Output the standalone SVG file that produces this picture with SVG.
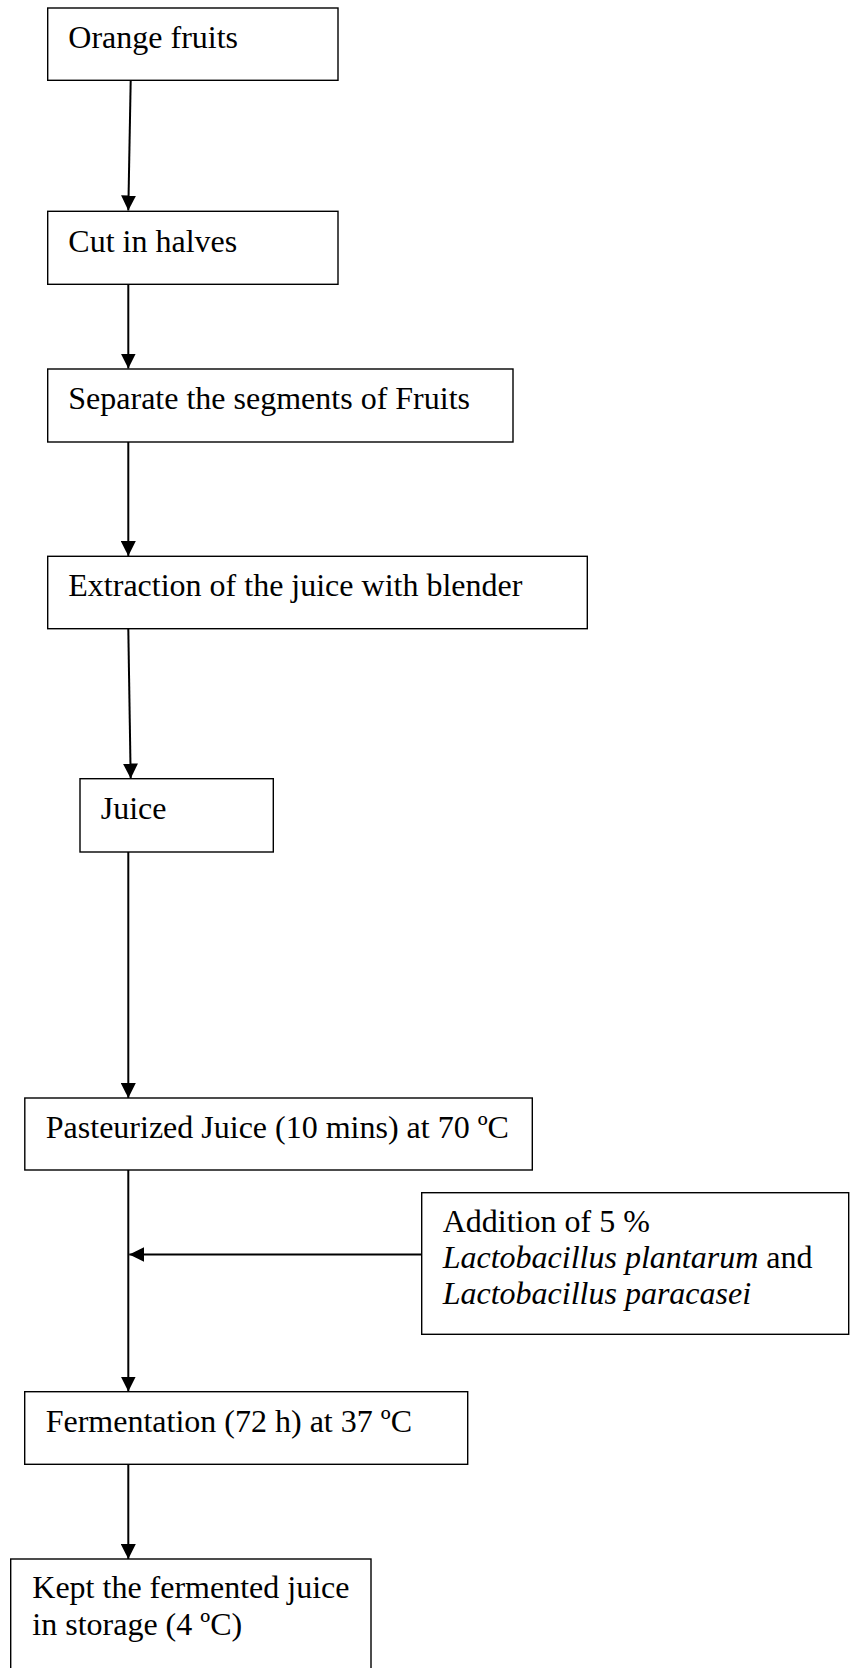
<svg xmlns="http://www.w3.org/2000/svg" width="861" height="1668" viewBox="0 0 861 1668">
<defs>
<style>
.box{fill:#fff;stroke:#000;stroke-width:1.4}
.t{font-family:"Liberation Serif","Times New Roman",serif;font-size:32px;fill:#000}
.i{font-style:italic}
.c{fill:none;stroke:#000;stroke-width:2}
</style>
<marker id="ah" viewBox="0 0 10 10" refX="10" refY="5" markerWidth="7.5" markerHeight="7.5" orient="auto" markerUnits="strokeWidth">
<path d="M0,0 L10,5 L0,10 z" fill="#000"/>
</marker>
</defs>
<rect width="861" height="1668" fill="#fff"/>
<g id="connectors">
<line class="c" x1="130.7" y1="80" x2="128.3" y2="210.5" marker-end="url(#ah)"/>
<line class="c" x1="128.3" y1="284" x2="128.3" y2="368.5" marker-end="url(#ah)"/>
<line class="c" x1="128.3" y1="442" x2="128.3" y2="556" marker-end="url(#ah)"/>
<line class="c" x1="128.3" y1="629" x2="130.7" y2="778.5" marker-end="url(#ah)"/>
<line class="c" x1="128.3" y1="852" x2="128.3" y2="1098" marker-end="url(#ah)"/>
<line class="c" x1="128.3" y1="1170" x2="128.3" y2="1391.5" marker-end="url(#ah)"/>
<line class="c" x1="421.7" y1="1254.5" x2="129.3" y2="1254.5" marker-end="url(#ah)"/>
<line class="c" x1="128.3" y1="1464.3" x2="128.3" y2="1559" marker-end="url(#ah)"/>
</g>
<g id="n1"><rect class="box" x="47.7" y="8" width="290.3" height="72.3"/><text class="t" x="68.3" y="48.3">Orange fruits</text></g>
<g id="n2"><rect class="box" x="47.7" y="211.3" width="290.3" height="73"/><text class="t" x="68.3" y="251.7">Cut in halves</text></g>
<g id="n3"><rect class="box" x="47.7" y="369" width="465.3" height="73"/><text class="t" x="68.3" y="408.7">Separate the segments of Fruits</text></g>
<g id="n4"><rect class="box" x="47.7" y="556.3" width="539.6" height="72.4"/><text class="t" x="68.3" y="595.7">Extraction of the juice with blender</text></g>
<g id="n5"><rect class="box" x="80" y="778.7" width="193.3" height="73.3"/><text class="t" x="100.7" y="818.7">Juice</text></g>
<g id="n6"><rect class="box" x="24.8" y="1098" width="507.5" height="72"/><text class="t" x="45.8" y="1138">Pasteurized Juice (10 mins) at 70 ºC</text></g>
<g id="n7"><rect class="box" x="421.7" y="1192.7" width="427" height="141.6"/>
<text class="t" x="442.7" y="1231.7">Addition of 5 %</text>
<text class="t" x="442.7" y="1267.7"><tspan class="i">Lactobacillus plantarum</tspan> and</text>
<text class="t" x="442.7" y="1304"><tspan class="i">Lactobacillus paracasei</tspan></text></g>
<g id="n8"><rect class="box" x="24.7" y="1391.7" width="443" height="72.6"/><text class="t" x="45.7" y="1431.7">Fermentation (72 h) at 37 ºC</text></g>
<g id="n9"><rect class="box" x="10.7" y="1559" width="360.3" height="130"/>
<text class="t" x="32.3" y="1598.3">Kept the fermented juice</text>
<text class="t" x="32.3" y="1635">in storage (4 ºC)</text></g>
</svg>
